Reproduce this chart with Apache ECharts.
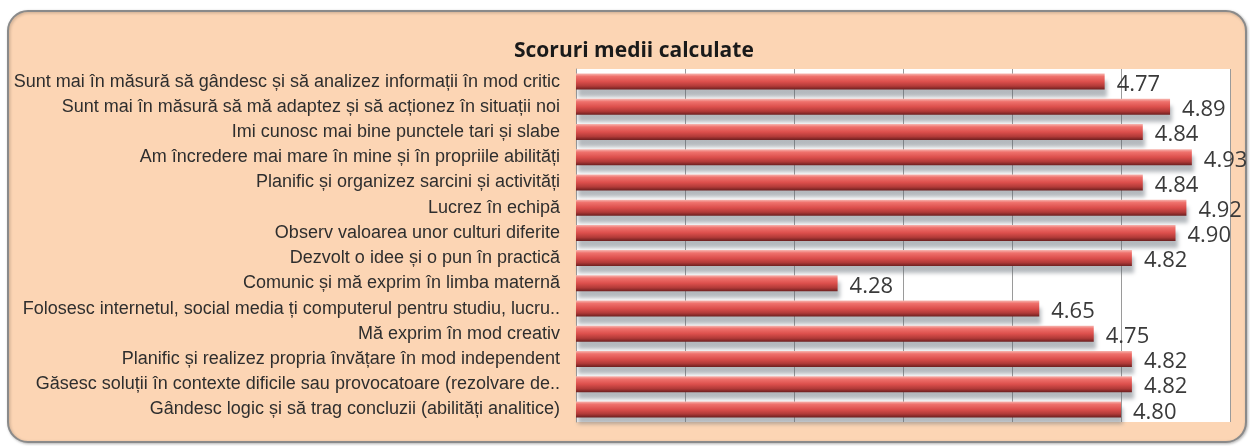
<!DOCTYPE html>
<html>
<head>
<meta charset="utf-8">
<script src="https://cdn.jsdelivr.net/npm/echarts@6/dist/echarts.min.js"></script>
<style>
  html, body { margin: 0; padding: 0; background: #ffffff; }
  #chart { width: 1250px; height: 446px; }
</style>
</head>
<body>
<div id="chart"></div>
<script>
// Competențe evaluate (de sus în jos)
const categories = [
  'Sunt mai în măsură să gândesc și să analizez informații în mod critic',
  'Sunt mai în măsură să mă adaptez și să acționez în situații noi',
  'Imi cunosc mai bine punctele tari și slabe',
  'Am încredere mai mare în mine și în propriile abilități',
  'Planific și organizez sarcini și activități',
  'Lucrez în echipă',
  'Observ valoarea unor culturi diferite',
  'Dezvolt o idee și o pun în practică',
  'Comunic și mă exprim în limba maternă',
  'Folosesc internetul, social media ți computerul pentru studiu, lucru..',
  'Mă exprim în mod creativ',
  'Planific și realizez propria învățare în mod independent',
  'Găsesc soluții în contexte dificile sau provocatoare (rezolvare de..',
  'Gândesc logic și să trag concluzii (abilități analitice)'
];

// Scoruri medii
const scores = [4.77, 4.89, 4.84, 4.93, 4.84, 4.92, 4.90, 4.82, 4.28, 4.65, 4.75, 4.82, 4.82, 4.80];

// Scala axei valorilor
const axisMin = 3.8;
const axisMax = 5.0;
const axisStep = 0.2;

const chart = echarts.init(document.getElementById('chart'), null, { renderer: 'canvas' });

const barGradient = new echarts.graphic.LinearGradient(0, 0, 0, 1, [
  { offset: 0, color: '#f7b6b0' },
  { offset: 0.18, color: '#ef716c' },
  { offset: 0.5, color: '#dc4f4c' },
  { offset: 0.78, color: '#b13a38' },
  { offset: 1, color: '#6c1f1f' }
]);

chart.setOption({
  animation: false,
  backgroundColor: 'transparent',
  graphic: [
    {
      type: 'rect',
      z: -10,
      shape: { x: 8, y: 11, width: 1238, height: 431, r: 20 },
      style: {
        fill: '#fcd5b4',
        stroke: '#8a8a8a',
        lineWidth: 2,
        shadowColor: 'rgba(0,0,0,0.25)',
        shadowBlur: 3,
        shadowOffsetX: 1,
        shadowOffsetY: 1
      }
    }
  ],
  title: {
    text: 'Scoruri medii calculate',
    left: 509,
    top: 36,
    textStyle: {
      fontFamily: 'Open Sans',
      fontWeight: 'bold',
      fontSize: 21,
      color: '#1a1a1a'
    }
  },
  grid: {
    left: 576,
    right: 20,
    top: 69,
    bottom: 24,
    show: true,
    backgroundColor: '#ffffff',
    borderWidth: 0,
    containLabel: false
  },
  xAxis: {
    type: 'value',
    min: axisMin,
    max: axisMax,
    interval: axisStep,
    axisLabel: { show: false },
    axisTick: { show: false },
    axisLine: { show: false },
    splitLine: { show: true, lineStyle: { color: '#9a9a9a', width: 1 } }
  },
  yAxis: {
    type: 'category',
    data: categories,
    inverse: true,
    axisTick: { show: false },
    axisLine: { show: true, lineStyle: { color: '#9a9a9a', width: 1 } },
    axisLabel: {
      margin: 16,
      fontFamily: 'Liberation Sans',
      fontSize: 18,
      color: '#2e2e2e'
    }
  },
  series: [
    {
      type: 'bar',
      data: scores,
      barWidth: 16,
      itemStyle: {
        color: barGradient,
        shadowColor: 'rgba(90,100,110,0.45)',
        shadowBlur: 4,
        shadowOffsetX: 2,
        shadowOffsetY: 7
      },
      label: {
        show: true,
        position: 'right',
        distance: 12,
        offset: [0, 3],
        formatter: p => p.value.toFixed(2),
        fontFamily: 'Open Sans',
        fontSize: 22,
        color: '#3a3a3a'
      }
    }
  ]
});
</script>
</body>
</html>
